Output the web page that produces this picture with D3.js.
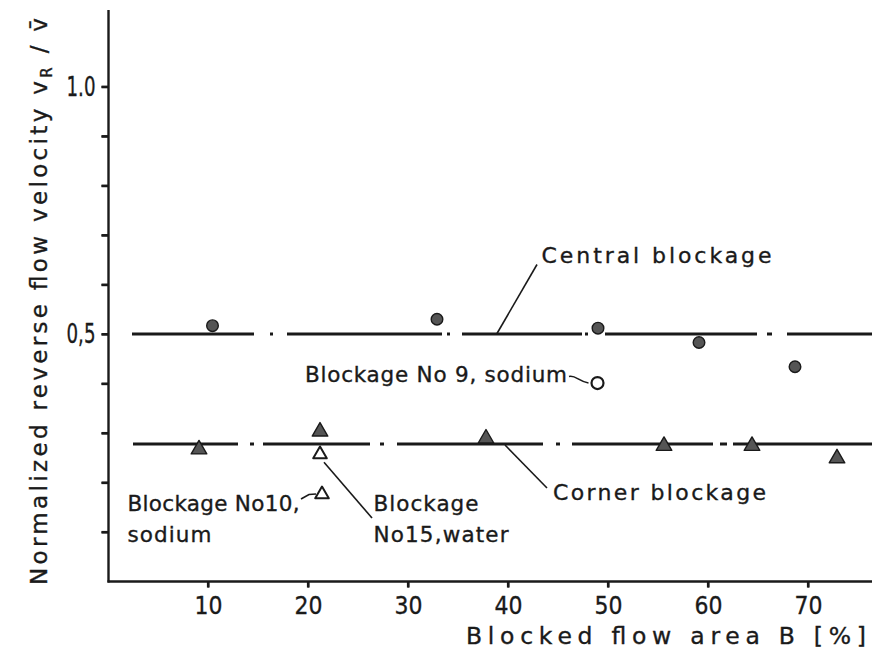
<!DOCTYPE html>
<html>
<head>
<meta charset="utf-8">
<script src="https://cdn.jsdelivr.net/npm/d3@7"></script>
<style>
  html, body { margin: 0; padding: 0; background: #fff; }
  svg { display: block; }
  text { font-family: "DejaVu Sans", sans-serif; fill: #1a1a1a; stroke: #1a1a1a; stroke-width: 0.35px; }
</style>
</head>
<body>
<script>
// ---------- data ----------
const xTicks = [10, 20, 30, 40, 50, 60, 70];
const yTicks = [0.1, 0.2, 0.3, 0.4, 0.5, 0.6, 0.7, 0.8, 0.9, 1.0];
const yTickLabels = { "1": "1.0", "0.5": "0,5" };

// Central blockage (filled circles)
const centralX = [10.45, 32.9, 49.0, 59.1, 68.7];
const centralY = [0.517, 0.530, 0.512, 0.483, 0.434];
// Blockage No 9, sodium (open circle)
const no9X = [48.95];
const no9Y = [0.401];

// Corner blockage (filled triangles)
const cornerX = [9.1, 21.2, 37.8, 55.6, 64.4, 72.9];
const cornerY = [0.267, 0.303, 0.289, 0.274, 0.274, 0.249];
// Blockage No15, water and Blockage No10, sodium (open triangles)
const no15X = [21.2];
const no15Y = [0.257];
const no10X = [21.4];
const no10Y = [0.176];

// mean lines
const centralMean = 0.50;
const cornerMean = 0.278;
const meanLineStart = 2.4;
const meanLineEnd = 76.4;

// ---------- layout ----------
const W = 872, H = 665;
const svg = d3.select("body").append("svg").attr("width", W).attr("height", H);

const x = d3.scaleLinear().domain([0, 76.4]).range([108, 872]);
const y = d3.scaleLinear().domain([0, 1]).range([581.5, 86.7]);
const ink = "#1a1a1a";
const font = "'DejaVu Sans', sans-serif";
const axisX = x(0.05);

// axes (labels via d3 axes)
const xAxis = d3.axisBottom(x).tickValues(xTicks).tickSize(6).tickPadding(9).tickSizeOuter(0)
  .tickFormat(d3.format("d"));
const gx = svg.append("g").attr("transform", `translate(0,${y(0)})`).call(xAxis);
gx.select(".domain").remove();
gx.selectAll(".tick line").attr("stroke", ink).attr("stroke-width", 2.2);
gx.selectAll(".tick text").attr("font-size", 25).attr("fill", ink)
  .attr("textLength", 28).attr("lengthAdjust", "spacingAndGlyphs")
  .style("font-family", font);

const yAxis = d3.axisLeft(y).tickValues(yTicks).tickSize(7).tickPadding(6).tickSizeOuter(0)
  .tickFormat(d => yTickLabels[String(+d.toFixed(1))] || "");
const gy = svg.append("g").attr("transform", `translate(${axisX},0)`).call(yAxis);
gy.select(".domain").remove();
gy.selectAll(".tick line").attr("stroke", ink).attr("stroke-width", 2.2);
gy.selectAll(".tick text").attr("font-size", 27).attr("fill", ink)
  .attr("textLength", 29).attr("lengthAdjust", "spacingAndGlyphs")
  .style("font-family", font);

// explicit tick stubs
svg.append("g").selectAll("line").data(xTicks).join("line")
  .attr("x1", d => x(d)).attr("x2", d => x(d))
  .attr("y1", y(0)).attr("y2", y(0) + 6)
  .attr("stroke", ink).attr("stroke-width", 2.2);
svg.append("g").selectAll("line").data(yTicks).join("line")
  .attr("x1", axisX - 7).attr("x2", axisX)
  .attr("y1", d => y(d)).attr("y2", d => y(d))
  .attr("stroke", ink).attr("stroke-width", 2.2);

// axis lines (left and bottom)
svg.append("line").attr("x1", axisX).attr("x2", axisX).attr("y1", 10).attr("y2", y(0) + 1)
  .attr("stroke", ink).attr("stroke-width", 2.4);
svg.append("line").attr("x1", axisX - 1).attr("x2", W).attr("y1", y(0)).attr("y2", y(0))
  .attr("stroke", ink).attr("stroke-width", 2.4);

// mean dash-dot lines
const line = d3.line().x(d => x(d[0])).y(d => y(d[1]));
svg.append("path")
  .attr("d", line([[meanLineStart, centralMean], [meanLineEnd, centralMean]]))
  .attr("stroke", ink).attr("stroke-width", 3).attr("fill", "none")
  .attr("stroke-dasharray", "122,16,3,14,155,5,3,12,120,3,3,17,152,10,5,15,200");
svg.append("path")
  .attr("d", line([[meanLineStart + 0.1, cornerMean], [meanLineEnd, cornerMean]]))
  .attr("stroke", ink).attr("stroke-width", 3).attr("fill", "none")
  .attr("stroke-dasharray", "105,12,4,9,107,10,4,13,146,13,4,12,141,7,7,6,200");

// leader lines
const leader = (pts) => svg.append("path")
  .attr("d", d3.line()(pts)).attr("stroke", ink).attr("stroke-width", 1.6).attr("fill", "none");
leader([[537, 264.5], [497, 333.5]]);                      // Central blockage
leader([[505, 445], [547, 488]]);                          // Corner blockage
leader([[x(no15X[0]) + 4, y(no15Y[0]) + 8], [372, 518]]);   // No15 water
leader([[301, 499], [309, 494.5], [316, 494]]);            // No10 sodium
svg.append("path").attr("d", "M569,376.5 C575,374.5 579,381.5 588.5,383")
  .attr("stroke", ink).attr("stroke-width", 1.6).attr("fill", "none"); // No9 sodium

// markers
const gray = "#555";
svg.append("g").selectAll("circle").data(d3.zip(centralX, centralY)).join("circle")
  .attr("cx", d => x(d[0])).attr("cy", d => y(d[1])).attr("r", 5.8)
  .attr("fill", gray).attr("stroke", ink).attr("stroke-width", 1.4);
svg.append("g").selectAll("circle").data(d3.zip(no9X, no9Y)).join("circle")
  .attr("cx", d => x(d[0])).attr("cy", d => y(d[1])).attr("r", 6)
  .attr("fill", "#fff").attr("stroke", ink).attr("stroke-width", 2.2);

svg.append("g").selectAll("path").data(d3.zip(cornerX, cornerY)).join("path")
  .attr("transform", d => `translate(${x(d[0])},${y(d[1])})`)
  .attr("d", d3.symbol().type(d3.symbolTriangle).size(105)())
  .attr("fill", gray).attr("stroke", ink).attr("stroke-width", 1.4).attr("stroke-linejoin", "round");
svg.append("g").selectAll("path").data(d3.zip(no15X.concat(no10X), no15Y.concat(no10Y))).join("path")
  .attr("transform", d => `translate(${x(d[0])},${y(d[1])})`)
  .attr("d", d3.symbol().type(d3.symbolTriangle).size(80)())
  .attr("fill", "#fff").attr("stroke", ink).attr("stroke-width", 2).attr("stroke-linejoin", "round");

// annotations
function label(txt, px, py, len, fs) {
  svg.append("text").attr("x", px).attr("y", py).attr("font-size", fs)
    .attr("textLength", len).attr("lengthAdjust", "spacing").text(txt);
}
label("Central blockage", 541.5, 262.5, 230, 22);
label("Blockage No 9, sodium", 305, 381.5, 262, 21.5);
label("Blockage No10,", 127.5, 510.5, 172, 21.5);
label("sodium", 127.5, 541.5, 84, 21.5);
label("Blockage", 373.5, 510.5, 105, 21.5);
label("No15,water", 373.5, 541.5, 135, 21.5);
label("Corner blockage", 553, 500, 213, 22);

// axis titles
svg.append("text").attr("x", 466).attr("y", 644).attr("font-size", 23.5)
  .attr("textLength", 400).attr("lengthAdjust", "spacing")
  .text("Blocked flow area B [%]");

const yt = svg.append("text")
  .attr("transform", "translate(47,585) rotate(-90)")
  .attr("font-size", 23).attr("textLength", 567).attr("lengthAdjust", "spacing");
yt.append("tspan").text("Normalized reverse flow velocity  v");
yt.append("tspan").attr("font-size", 15).attr("dy", 5).text("R");
yt.append("tspan").attr("dy", -5).text(" / v\u0304");
</script>
</body>
</html>
